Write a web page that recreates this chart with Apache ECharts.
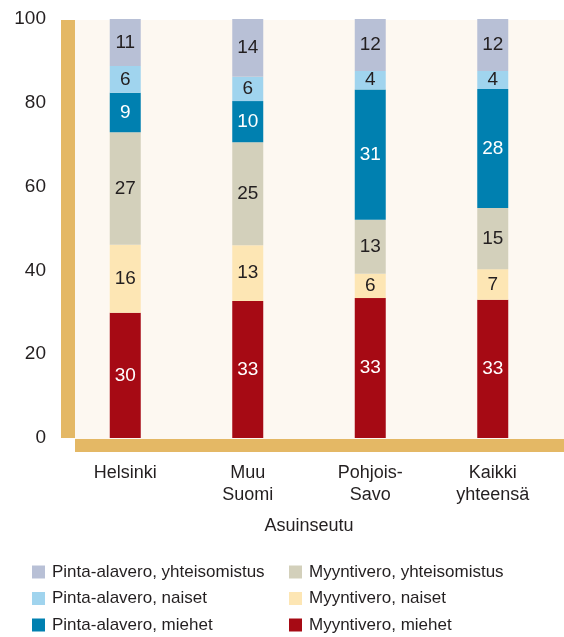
<!DOCTYPE html>
<html>
<head>
<meta charset="utf-8">
<script src="https://cdn.jsdelivr.net/npm/echarts@6/dist/echarts.min.js"></script>
<style>html,body{margin:0;padding:0;background:#fff;}#c{width:564px;height:637px;}</style>
</head>
<body>
<div id="c"></div>
<script>
const categories = ['Helsinki', 'Muu\nSuomi', 'Pohjois-\nSavo', 'Kaikki\nyhteensä'];
const yTicks = [0, 20, 40, 60, 80, 100];
// stacked bottom to top; labels shown rounded
const myyntiMiehet      = [29.9, 32.7, 33.4, 33.0];
const myyntiNaiset      = [16.2, 13.3, 5.8, 7.3];
const myyntiYhteis      = [26.9, 24.6, 12.9, 14.6];
const pintaMiehet       = [9.4, 9.8, 31.1, 28.4];
const pintaNaiset       = [6.4, 5.8, 4.4, 4.3];
const pintaYhteis       = [11.2, 13.8, 12.4, 12.4];

const FONT = 'Liberation Sans';
const TXT = '#231f20';

const seriesDefs = [
  { name: 'Myyntivero, miehet', data: myyntiMiehet, color: '#a60a14', label: '#ffffff' },
  { name: 'Myyntivero, naiset', data: myyntiNaiset, color: '#fde6b4', label: TXT },
  { name: 'Myyntivero, yhteisomistus', data: myyntiYhteis, color: '#d3d0bb', label: TXT },
  { name: 'Pinta-alavero, miehet', data: pintaMiehet, color: '#0080b0', label: '#ffffff' },
  { name: 'Pinta-alavero, naiset', data: pintaNaiset, color: '#a0d4ee', label: TXT },
  { name: 'Pinta-alavero, yhteisomistus', data: pintaYhteis, color: '#b8c0d6', label: TXT }
];

const chart = echarts.init(document.getElementById('c'), null, { renderer: 'canvas' });

const legendText = { fontFamily: FONT, fontSize: 17, color: TXT, lineHeight: 20, padding: [0, 0, 0, 2] };

chart.setOption({
  animation: false,
  backgroundColor: '#ffffff',
  textStyle: { fontFamily: FONT },
  graphic: [
    { type: 'rect', z: -10, shape: { x: 75, y: 20, width: 489, height: 419 }, style: { fill: '#fdf8f1' } },
    { type: 'rect', z: -5, shape: { x: 61, y: 20, width: 14, height: 418 }, style: { fill: '#e4b865' } },
    { type: 'rect', z: -5, shape: { x: 75, y: 439, width: 489, height: 13 }, style: { fill: '#e4b865' } }
  ],
  grid: { left: 64, right: 10, top: 19, bottom: 199, containLabel: false },
  legend: [
    {
      orient: 'vertical', left: 32, top: 562, height: 90, padding: 0, itemWidth: 13, itemHeight: 13, itemGap: 6.5,
      icon: 'rect', selectedMode: false, textStyle: legendText,
      data: ['Pinta-alavero, yhteisomistus', 'Pinta-alavero, naiset', 'Pinta-alavero, miehet']
    },
    {
      orient: 'vertical', left: 289, top: 562, height: 90, padding: 0, itemWidth: 13, itemHeight: 13, itemGap: 6.5,
      icon: 'rect', selectedMode: false, textStyle: legendText,
      data: ['Myyntivero, yhteisomistus', 'Myyntivero, naiset', 'Myyntivero, miehet']
    }
  ],
  xAxis: {
    type: 'category',
    data: categories,
    name: 'Asuinseutu',
    nameLocation: 'middle',
    nameGap: 78,
    nameTextStyle: { fontFamily: FONT, fontSize: 18, color: TXT, lineHeight: 20 },
    axisLine: { show: false },
    axisTick: { show: false },
    axisLabel: { fontFamily: FONT, fontSize: 18, color: TXT, lineHeight: 22, margin: 24, interval: 0 }
  },
  yAxis: {
    type: 'value',
    min: yTicks[0],
    max: yTicks[yTicks.length - 1],
    interval: yTicks[1] - yTicks[0],
    axisLine: { show: false },
    axisTick: { show: false },
    splitLine: { show: false },
    axisLabel: { fontFamily: FONT, fontSize: 19, color: TXT, margin: 18 }
  },
  series: seriesDefs.map(s => ({
    name: s.name,
    type: 'bar',
    stack: 'total',
    barWidth: 31,
    data: s.data,
    itemStyle: { color: s.color },
    label: {
      show: true,
      position: 'inside',
      color: s.label,
      fontFamily: FONT,
      fontSize: 19,
      formatter: p => Math.round(p.value)
    }
  }))
});
</script>
</body>
</html>
